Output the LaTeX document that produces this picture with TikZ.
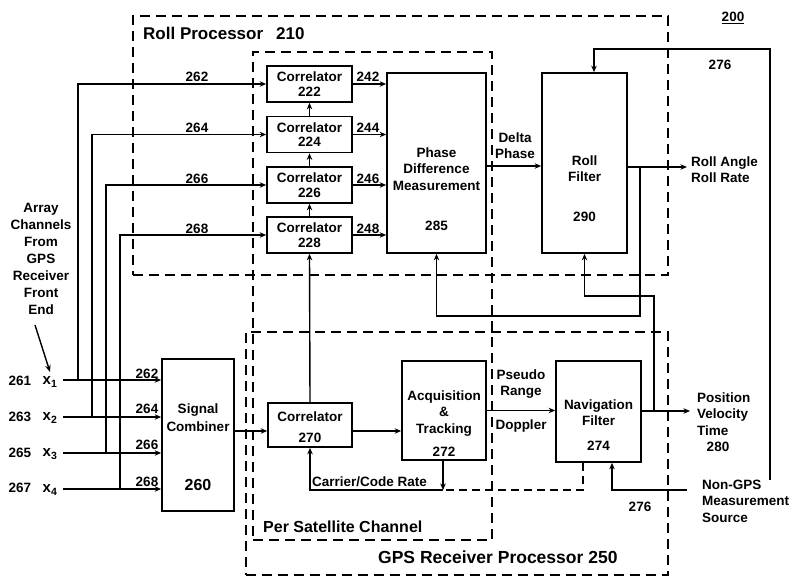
\documentclass[tikz,border=0pt]{standalone}
\usepackage{fontspec}
\setmainfont{Liberation Sans}
\usetikzlibrary{arrows.meta}
\begin{document}
\begin{tikzpicture}[x=1pt,y=-1pt,
  every node/.style={font=\bfseries\fontsize{13.5}{16.5}\selectfont, inner sep=0pt},
  box/.style={draw, line width=1.7pt, align=center},
  txt/.style={align=center},
  ln/.style={line width=1.4pt},
  arr/.style={ln, -{Stealth[length=6.5pt,width=5.5pt]}},
  dframe/.style={draw, line width=1.4pt, dash pattern=on 10pt off 6pt},
  dthick/.style={draw, line width=2.1pt, dash pattern=on 10pt off 6pt},
  dline/.style={line width=1.7pt, dash pattern=on 8pt off 5pt}
]
\useasboundingbox (0,0) rectangle (792,578);

% frames
\node[dframe, minimum width=535pt, minimum height=259pt] (rp) at (400.5,145.5) {};
\node[dthick, minimum width=239pt, minimum height=488pt] (ps) at (372.5,296) {};
\node[dframe, minimum width=422pt, minimum height=243pt] (gr) at (457,453.5) {};
\node[anchor=west, font=\bfseries\fontsize{17}{20}\selectfont] (rpl) at (143,33) {Roll Processor\hspace{13pt}210};
\node[anchor=west, font=\bfseries\fontsize{16}{19}\selectfont] (psl) at (263,527) {Per Satellite Channel};
\node[anchor=west, font=\bfseries\fontsize{17.5}{20}\selectfont] (grl) at (378,557) {GPS Receiver Processor 250};
\node (n200) at (733,18) {\underline{200}};

% correlators
\begin{scope}[every node/.append style={font=\bfseries\fontsize{13.5}{14.5}\selectfont}]
\node[box, minimum width=85pt, minimum height=36pt] (c222) at (309.5,84) {Correlator\\222};
\node[box, minimum width=85pt, minimum height=36pt] (c224) at (309.5,134.5) {Correlator\\224};
\node[box, minimum width=85pt, minimum height=36pt] (c226) at (309.5,185) {Correlator\\226};
\node[box, minimum width=85pt, minimum height=36pt] (c228) at (309.5,235) {Correlator\\228};
\end{scope}

% main blocks
\node[box, minimum width=99pt, minimum height=180pt] (pdm) at (436.5,163) {};
\node[txt] (pdmt) at (436.5,169) {Phase\\Difference\\Measurement};
\node (pdmn) at (436.5,226) {285};

\node[box, minimum width=85pt, minimum height=180pt] (rf) at (584.5,163) {};
\node[txt] (rft) at (584.5,168.5) {Roll\\Filter};
\node (rfn) at (584.5,217) {290};

\node[box, minimum width=72pt, minimum height=152pt] (sc) at (198,435) {};
\node[txt, font=\bfseries\fontsize{13.5}{18}\selectfont] (sct) at (198,418) {Signal\\Combiner};
\node[font=\bfseries\fontsize{16}{19}\selectfont] (scn) at (198,485) {260};

\node[box, minimum width=84pt, minimum height=44pt] (c270) at (310,425) {};
\node[txt, font=\bfseries\fontsize{13.5}{21}\selectfont] (c270t) at (310,427.5) {Correlator\\270};

\node[box, minimum width=84pt, minimum height=99pt] (acq) at (444,410.5) {};
\node[txt] (acqt) at (444,413.5) {Acquisition\\\&\\Tracking};
\node (acqn) at (444,452) {272};

\node[box, minimum width=85pt, minimum height=101pt] (nav) at (598.5,411.5) {};
\node[txt] (navt) at (598.5,412.5) {Navigation\\Filter};
\node (navn) at (598.5,446) {274};

% inputs
\node[txt, font=\bfseries\fontsize{13.5}{17}\selectfont] (arrtxt) at (41,259) {Array\\Channels\\From\\GPS\\Receiver\\Front\\End};
\coordinate (ae0) at (35,325);
\coordinate (ae1) at (50,372);
\draw[ln, -{Stealth[length=7pt,width=5.5pt]}] (ae0) -- (ae1);

\node (l261) at (20,381) {261};
\node (l263) at (20,417) {263};
\node (l265) at (20,453) {265};
\node (l267) at (20,488) {267};
\node[font=\bfseries\fontsize{15}{17}\selectfont] (x1) at (50,382) {x\textsubscript{1}};
\node[font=\bfseries\fontsize{15}{17}\selectfont] (x2) at (50,418) {x\textsubscript{2}};
\node[font=\bfseries\fontsize{15}{17}\selectfont] (x3) at (50,454) {x\textsubscript{3}};
\node[font=\bfseries\fontsize{15}{17}\selectfont] (x4) at (50,490) {x\textsubscript{4}};

\coordinate (i1) at (63,380);
\coordinate (i2) at (63,417);
\coordinate (i3) at (63,453);
\coordinate (i4) at (63,489);
\draw[arr] (i1) -- (sc.west |- i1);
\draw[arr] (i2) -- (sc.west |- i2);
\draw[arr] (i3) -- (sc.west |- i3);
\draw[arr] (i4) -- (sc.west |- i4);

\coordinate (j1) at (78,380);
\coordinate (j2) at (92,417);
\coordinate (j3) at (106,453);
\coordinate (j4) at (120,489);
\draw[arr] (j1) |- (c222.west);
\draw[arr] (j2) |- (c224.west);
\draw[arr] (j3) |- (c226.west);
\draw[arr] (j4) |- (c228.west);

\node (t262) at (197,77) {262};
\node (t264) at (197,128) {264};
\node (t266) at (197,179) {266};
\node (t268) at (197,229) {268};
\node (s262) at (147,374) {262};
\node (s264) at (147,409) {264};
\node (s266) at (147,445) {266};
\node (s268) at (147,482) {268};

% correlator outputs
\draw[arr] (c222.east) -- (pdm.west |- c222.east);
\draw[arr] (c224.east) -- (pdm.west |- c224.east);
\draw[arr] (c226.east) -- (pdm.west |- c226.east);
\draw[arr] (c228.east) -- (pdm.west |- c228.east);
\node (o242) at (368,77) {242};
\node (o244) at (368,128) {244};
\node (o246) at (368,179) {246};
\node (o248) at (368,229) {248};

% chain of correlators
\draw[arr] (c270.north) -- (c228.south);
\draw[arr] (c228.north) -- (c226.south);
\draw[arr] (c226.north) -- (c224.south);
\draw[arr] (c224.north) -- (c222.south);

% delta phase
\draw[arr] ([yshift=-3pt]pdm.east) -- ([yshift=-3pt]rf.west);
\node (dl1) at (515,138) {Delta};
\node (dl2) at (515,154) {Phase};

% roll output
\coordinate (ro) at (687,167);
\draw[arr] ([yshift=-4pt]rf.east) -- (ro);
\node[anchor=west, align=left] (rot) at (691,169.5) {Roll Angle\\Roll Rate};
\coordinate (jr) at (640,167);
\draw[arr] (jr) -- (640,316) -| (pdm.south);

% GPS chain
\draw[arr] ([yshift=-6pt]sc.east |- c270.west) -- ([yshift=-6pt]c270.west);
\draw[arr] ([yshift=-6pt]c270.east) -- ([yshift=-6pt]acq.west |- c270.east);
\draw[arr] (acq.east) -- (nav.west |- acq.east);
\node (pr1) at (521,375) {Pseudo};
\node (pr2) at (521,392) {Range};
\node (dop) at (521,426) {Doppler};

\coordinate (cc) at (443,490);
\draw[arr] (acq.south -| cc) -- (cc);
\draw[arr] (cc) -| (c270.south);
\draw[dline] ([xshift=-15.5pt]nav.south) |- (cc);
\node[anchor=west] (cct) at (312,482) {Carrier/Code Rate};

% nav output
\coordinate (pvt) at (690,411);
\draw[arr] (nav.east |- pvt) -- (pvt);
\node[anchor=west, align=left] (pvtt) at (697,414) {Position\\Velocity\\Time};
\node (n280) at (718,447) {280};
\coordinate (jn) at (654,411);
\draw[arr] (jn) -- (654,296) -| (rf.south);

% non-GPS
\coordinate (ng) at (687,490);
\draw[arr] (ng) -| ([xshift=13.5pt]nav.south);
\node[anchor=west, align=left] (ngt) at (702,501) {Non-GPS\\Measurement\\Source};
\node (n276b) at (640,507) {276};

\coordinate (ng2) at (770,480);
\draw[arr] (ng2) -- (770,49) -| ([xshift=9.5pt]rf.north);
\node (n276a) at (720,65) {276};
\end{tikzpicture}
\end{document}
